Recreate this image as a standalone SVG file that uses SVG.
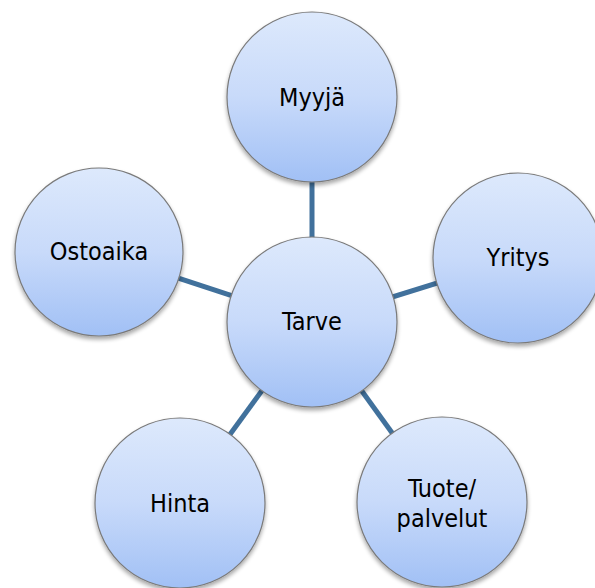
<svg xmlns="http://www.w3.org/2000/svg" width="595" height="588" viewBox="0 0 595 588">
<defs>
<linearGradient id="g" x1="0" y1="0" x2="0" y2="1">
<stop offset="0" stop-color="#dde9fc"/>
<stop offset="0.5" stop-color="#c8dafa"/>
<stop offset="1" stop-color="#a1c0f5"/>
</linearGradient>
<filter id="sh" x="-20%" y="-20%" width="140%" height="150%">
<feGaussianBlur in="SourceAlpha" stdDeviation="2"/>
<feOffset dx="0" dy="3" result="b"/>
<feComponentTransfer><feFuncA type="linear" slope="0.35"/></feComponentTransfer>
<feMerge><feMergeNode/><feMergeNode in="SourceGraphic"/></feMerge>
</filter>
</defs>
<style>
.n{fill:url(#g);stroke:#7a7a7a;stroke-width:1.2;filter:url(#sh)}
.c{stroke:#41719c;stroke-width:5;fill:none}
text{font-family:"DejaVu Sans Condensed","DejaVu Sans",sans-serif;font-stretch:condensed;font-size:25px;fill:#000;text-anchor:middle}
</style>
<rect width="595" height="588" fill="#fff"/>
<g id="connectors">
<line class="c" x1="312" y1="322" x2="312" y2="97"/>
<line class="c" x1="312" y1="322" x2="99" y2="252"/>
<line class="c" x1="312" y1="322" x2="518" y2="258"/>
<line class="c" x1="312" y1="322" x2="180" y2="503"/>
<line class="c" x1="312" y1="322" x2="442" y2="502"/>
</g>
<g id="myyja"><circle class="n" cx="312" cy="97" r="85"/><text x="312" y="106">Myyjä</text></g>
<g id="ostoaika"><circle class="n" cx="99" cy="252" r="84"/><text x="99" y="260">Ostoaika</text></g>
<g id="yritys"><circle class="n" cx="518" cy="258" r="85"/><text x="518" y="266">Yritys</text></g>
<g id="hinta"><circle class="n" cx="180" cy="503" r="85"/><text x="180" y="512">Hinta</text></g>
<g id="tuote"><circle class="n" cx="442" cy="502" r="85"/><text x="442" y="497">Tuote/</text><text x="442" y="527">palvelut</text></g>
<g id="tarve"><circle class="n" cx="312" cy="322" r="85"/><text x="312" y="330">Tarve</text></g>
</svg>
